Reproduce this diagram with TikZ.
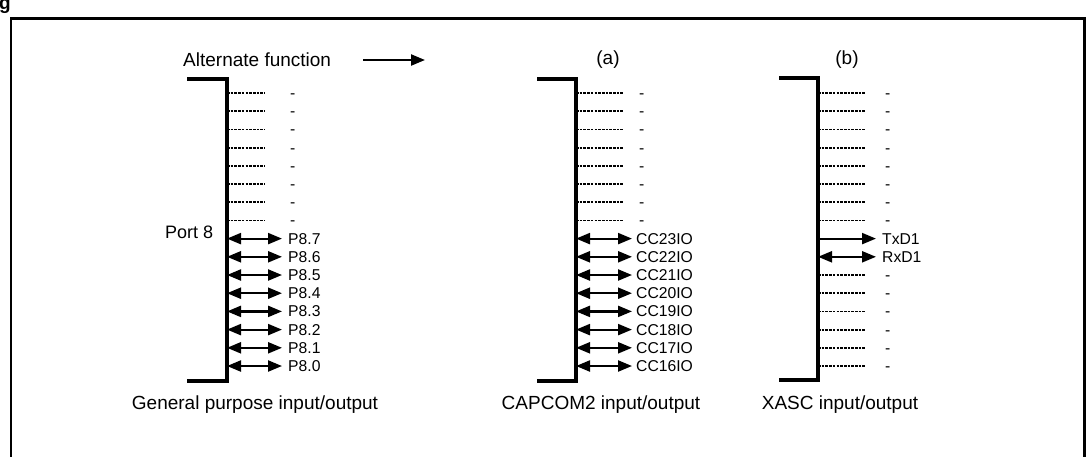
\documentclass[tikz,border=0pt]{standalone}
\usepackage{fontspec}
\setmainfont{Liberation Sans}
\usetikzlibrary{arrows.meta}
\begin{document}
\begin{tikzpicture}[x=1pt,y=-1pt,
  bigtxt/.style={font=\fontsize{19}{22}\selectfont, inner sep=0pt},
  lbl/.style={font=\fontsize{15.7}{18}\selectfont, inner sep=0pt, anchor=base west},
  bracket/.style={line width=3.6pt},
  dots/.style={line width=1.8pt, dash pattern=on 2.6pt off 1.1pt},
  bidir/.style={line width=2.2pt, {Triangle[length=14pt,width=11pt]}-{Triangle[length=14pt,width=11pt]}},
  unidir/.style={line width=2.2pt, -{Triangle[length=14pt,width=11pt]}},
]
\useasboundingbox (0,0) rectangle (1087,456);
% frame
\draw[line width=2.6pt] (11,470) -- (11,18.5) -- (1084.5,18.5) -- (1084.5,470);
\node[font=\bfseries\fontsize{19}{22}\selectfont, anchor=base west, inner sep=0pt] (title) at (-1,9) {g};

% headings
\node[bigtxt, anchor=west] (alt) at (183,60) {Alternate function};
\coordinate (altS) at (363,60);
\coordinate (altE) at (425,60);
\draw[unidir] (altS) -- (altE);
\node[bigtxt] (ha) at (608,60) {(a)};
\node[bigtxt] (hb) at (847,60) {(b)};
\node[font=\fontsize{18}{20}\selectfont, inner sep=0pt, anchor=west] (port) at (165,232) {Port 8};

% group 1: general purpose
\draw[bracket] (187,79) -- (227,79) -- (227,381) -- (187,381);
\foreach \i in {0,...,7}{
  \coordinate (g1b\i) at (227,{93+18.2*\i});
  \coordinate (g1d\i) at (265,{93+18.2*\i});
  \draw[dots] (g1b\i) -- (g1d\i);
  \node[lbl] (g1l\i) at (290,{93+18.2*\i+5.5}) {-};
}
\foreach \i/\t in {8/P8.7,9/P8.6,10/P8.5,11/P8.4,12/P8.3,13/P8.2,14/P8.1,15/P8.0}{
  \coordinate (g1b\i) at (227,{93+18.2*\i});
  \coordinate (g1e\i) at (282,{93+18.2*\i});
  \draw[bidir] (g1b\i) -- (g1e\i);
  \node[lbl] (g1l\i) at (288,{93+18.2*\i+5.5}) {\t};
}
\node[bigtxt] (cap1) at (255,405) {General purpose input/output};

% group 2: CAPCOM2
\draw[bracket] (537,79) -- (576,79) -- (576,381) -- (537,381);
\foreach \i in {0,...,7}{
  \coordinate (g2b\i) at (576,{93+18.2*\i});
  \coordinate (g2d\i) at (623,{93+18.2*\i});
  \draw[dots] (g2b\i) -- (g2d\i);
  \node[lbl] (g2l\i) at (639,{93+18.2*\i+5.5}) {-};
}
\foreach \i/\t in {8/CC23IO,9/CC22IO,10/CC21IO,11/CC20IO,12/CC19IO,13/CC18IO,14/CC17IO,15/CC16IO}{
  \coordinate (g2b\i) at (576,{93+18.2*\i});
  \coordinate (g2e\i) at (632,{93+18.2*\i});
  \draw[bidir] (g2b\i) -- (g2e\i);
  \node[lbl] (g2l\i) at (636,{93+18.2*\i+5.5}) {\t};
}
\node[bigtxt] (cap2) at (601,405) {CAPCOM2 input/output};

% group 3: XASC
\draw[bracket] (779,78) -- (818,78) -- (818,380) -- (779,380);
\foreach \i in {0,...,7,10,11,12,13,14,15}{
  \coordinate (g3b\i) at (818,{93+18.2*\i});
  \coordinate (g3d\i) at (866,{93+18.2*\i});
  \draw[dots] (g3b\i) -- (g3d\i);
  \node[lbl] (g3l\i) at (885,{93+18.2*\i+5.5}) {-};
}
\coordinate (g3b8) at (818,{93+18.2*8});
\coordinate (g3e8) at (876,{93+18.2*8});
\draw[unidir] (g3b8) -- (g3e8);
\node[lbl] (g3l8) at (882,{93+18.2*8+5.5}) {TxD1};
\coordinate (g3b9) at (818,{93+18.2*9});
\coordinate (g3e9) at (876,{93+18.2*9});
\draw[bidir] (g3b9) -- (g3e9);
\node[lbl] (g3l9) at (882,{93+18.2*9+5.5}) {RxD1};
\node[bigtxt] (cap3) at (840,405) {XASC input/output};
\end{tikzpicture}
\end{document}
